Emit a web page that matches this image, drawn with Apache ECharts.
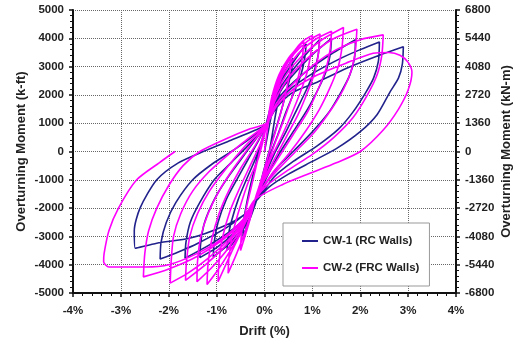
<!DOCTYPE html>
<html>
<head>
<meta charset="utf-8">
<script src="https://cdn.jsdelivr.net/npm/echarts@6/dist/echarts.min.js"></script>
<style>
  html, body { margin: 0; padding: 0; background: #fff; }
  #chart { width: 514px; height: 341px; }
</style>
</head>
<body>
<div id="chart"></div>
<script>
  // drift (%) vs overturning moment (k-ft)
  var cw1 = [
    [0, 0], [0.1, 900], [0.2, 1700], [0.35, 2700],
    [0.33, 2200], [0.22, 1200], [0.08, -200], [-0.08, -1100],
    [-0.22, -2000], [-0.45, -3000],
    [-0.43, -2400], [-0.32, -1400], [-0.16, -300], [-0.02, 600], [0.03, 950],
    [0.15, 1700], [0.3, 2400], [0.45, 2900], [0.6, 3300],
    [0.56, 2800], [0.47, 2200], [0.36, 1500], [0.22, 700], [0.08, -100], [-0.05, -900], [-0.15, -1650],
    [-0.3, -2300], [-0.5, -2900], [-0.78, -3480],
    [-0.76, -3000], [-0.68, -2400], [-0.55, -1700], [-0.38, -1000], [-0.2, -300], [-0.05, 400], [0.03, 950],
    [0.15, 1700], [0.3, 2350], [0.5, 2900], [0.7, 3400], [0.87, 3800],
    [0.84, 3300], [0.76, 2700], [0.62, 2100], [0.45, 1400], [0.28, 600], [0.1, -200], [-0.05, -1000], [-0.15, -1650],
    [-0.3, -2300], [-0.55, -2900], [-0.8, -3350], [-1.07, -3720],
    [-1.05, -3200], [-0.97, -2500], [-0.8, -1700], [-0.58, -1000], [-0.35, -300], [-0.12, 400], [0.03, 950],
    [0.18, 1700], [0.35, 2300], [0.6, 2900], [0.9, 3500], [1.15, 3950],
    [1.12, 3400], [1.03, 2800], [0.88, 2200], [0.68, 1500], [0.45, 700], [0.2, -100], [0, -900], [-0.15, -1650],
    [-0.35, -2300], [-0.65, -2900], [-1.0, -3400], [-1.35, -3750],
    [-1.33, -3200], [-1.25, -2500], [-1.05, -1700], [-0.8, -1000], [-0.5, -300], [-0.2, 400], [0.03, 950],
    [0.2, 1700], [0.4, 2300], [0.7, 2900], [1.05, 3500], [1.4, 4000],
    [1.37, 3400], [1.28, 2800], [1.12, 2200], [0.9, 1500], [0.6, 700], [0.3, -100], [0.05, -900], [-0.15, -1650],
    [-0.35, -2250], [-0.7, -2800], [-1.15, -3300], [-1.66, -3770],
    [-1.64, -3200], [-1.55, -2500], [-1.35, -1800], [-1.05, -1000], [-0.7, -400], [-0.35, 200], [-0.1, 650], [0.03, 950],
    [0.2, 1650], [0.45, 2200], [0.85, 2800], [1.35, 3400], [1.9, 3950],
    [1.88, 3300], [1.78, 2700], [1.6, 2100], [1.35, 1400], [1.0, 700], [0.6, 0], [0.25, -600], [0, -1200], [-0.15, -1700],
    [-0.4, -2200], [-0.8, -2700], [-1.4, -3250], [-1.8, -3550], [-2.18, -3800],
    [-2.16, -3200], [-2.05, -2500], [-1.85, -1800], [-1.5, -1000], [-1.1, -450], [-0.6, 100], [-0.2, 600], [0.03, 950],
    [0.22, 1600], [0.5, 2150], [1.0, 2750], [1.6, 3300], [2.0, 3600], [2.4, 3870],
    [2.38, 3200], [2.28, 2600], [2.12, 2100], [1.85, 1400], [1.55, 800], [1.1, 200], [0.6, -350], [0.2, -900], [-0.15, -1700],
    [-0.4, -2200], [-0.87, -2650], [-1.55, -3060], [-2.25, -3240], [-2.7, -3420],
    [-2.72, -2800], [-2.6, -2000], [-2.25, -1000], [-1.8, -400], [-1.28, 0], [-0.7, 400], [-0.2, 750], [0.03, 950],
    [0.25, 1550], [0.6, 2100], [1.1, 2450], [1.8, 3000], [2.4, 3400], [2.9, 3700],
    [2.88, 3100], [2.8, 2600], [2.62, 2100], [2.35, 1300], [2.0, 700], [1.5, 100], [1.0, -350], [0.5, -800], [0.1, -1250], [-0.15, -1700]
  ];

  var cw2 = [
    [0, 0], [0.1, 1200], [0.25, 2200], [0.4, 2900], [0.55, 3300],
    [0.52, 2700], [0.42, 1900], [0.28, 1000], [0.12, 100], [-0.05, -900], [-0.2, -1700],
    [-0.32, -2500], [-0.5, -3500],
    [-0.48, -2900], [-0.38, -2000], [-0.24, -1000], [-0.1, 0], [0.05, 950],
    [0.15, 1900], [0.3, 2700], [0.5, 3300], [0.82, 3900],
    [0.79, 3300], [0.7, 2600], [0.57, 1900], [0.4, 1100], [0.22, 300], [0.05, -500], [-0.1, -1200], [-0.2, -1700],
    [-0.4, -2800], [-0.58, -3600], [-0.76, -4300],
    [-0.74, -3700], [-0.65, -2800], [-0.5, -1900], [-0.32, -1000], [-0.12, -200], [0.05, 950],
    [0.18, 1950], [0.35, 2800], [0.6, 3500], [0.8, 3900], [1.0, 4100],
    [0.97, 3500], [0.89, 2800], [0.75, 2100], [0.56, 1300], [0.35, 500], [0.12, -300], [-0.05, -1100], [-0.2, -1700],
    [-0.45, -2700], [-0.7, -3600], [-0.97, -4600],
    [-0.95, -3900], [-0.87, -3000], [-0.72, -2100], [-0.52, -1300], [-0.3, -500], [-0.08, 300], [0.05, 1000],
    [0.18, 1900], [0.38, 2800], [0.62, 3450], [0.9, 3900], [1.16, 4150],
    [1.13, 3500], [1.05, 2800], [0.9, 2100], [0.7, 1300], [0.45, 500], [0.2, -300], [-0.05, -1100], [-0.2, -1700],
    [-0.45, -2700], [-0.75, -3600], [-1.0, -4250], [-1.2, -4700],
    [-1.18, -4000], [-1.1, -3100], [-0.95, -2200], [-0.75, -1400], [-0.5, -600], [-0.2, 200], [0.05, 1000],
    [0.2, 1900], [0.4, 2750], [0.7, 3450], [1.05, 3950], [1.4, 4250],
    [1.37, 3600], [1.28, 2900], [1.12, 2200], [0.9, 1400], [0.6, 600], [0.3, -200], [0.0, -1000], [-0.2, -1700],
    [-0.45, -2600], [-0.75, -3400], [-1.1, -4100], [-1.41, -4600],
    [-1.4, -3900], [-1.33, -3000], [-1.18, -2200], [-0.95, -1400], [-0.65, -600], [-0.3, 200], [0.05, 1000],
    [0.2, 1850], [0.45, 2700], [0.8, 3400], [1.2, 3950], [1.65, 4380],
    [1.62, 3700], [1.54, 3000], [1.38, 2300], [1.15, 1500], [0.85, 700], [0.5, -100], [0.15, -800], [-0.2, -1700],
    [-0.45, -2550], [-0.8, -3300], [-1.2, -3950], [-1.65, -4550],
    [-1.63, -3900], [-1.56, -3000], [-1.4, -2200], [-1.15, -1400], [-0.8, -600], [-0.4, 200], [0.05, 1000],
    [0.22, 1800], [0.5, 2600], [0.9, 3300], [1.4, 3950], [1.93, 4320],
    [1.9, 3600], [1.82, 2900], [1.65, 2200], [1.4, 1500], [1.05, 700], [0.65, 0], [0.25, -700], [-0.05, -1300], [-0.2, -1700],
    [-0.45, -2500], [-0.8, -3200], [-1.2, -3800], [-1.6, -4300], [-1.97, -4650],
    [-1.95, -3900], [-1.9, -3000], [-1.75, -2200], [-1.5, -1400], [-1.15, -700], [-0.75, -100], [-0.35, 450], [0.05, 1000],
    [0.25, 1700], [0.6, 2400], [1.05, 3100], [1.5, 3600], [2.0, 3950], [2.48, 4120],
    [2.45, 3400], [2.35, 2700], [2.15, 2000], [1.85, 1200], [1.45, 500], [1.0, -100], [0.5, -650], [0.05, -1200], [-0.2, -1700],
    [-0.45, -2450], [-0.85, -3100], [-1.4, -3700], [-2.0, -4150], [-2.53, -4430],
    [-2.5, -3600], [-2.42, -2800], [-2.25, -2000], [-2.0, -1200], [-1.7, -500], [-1.35, 0], [-0.8, 450], [-0.3, 800], [0.05, 1000],
    [0.25, 1600], [0.6, 2200], [1.1, 2700], [1.7, 3120], [2.27, 3470], [2.6, 3500], [2.83, 3400], [3.0, 3150], [3.08, 2800],
    [3.0, 2170], [2.8, 1500], [2.48, 760], [2.0, 0], [1.5, -400], [0.95, -770], [0.4, -1150], [-0.2, -1700],
    [-0.45, -2400], [-0.9, -3100], [-1.4, -3600], [-2.0, -4000], [-2.5, -4080], [-3.25, -4080], [-3.36, -3900],
    [-3.35, -3600], [-3.25, -2800], [-3.05, -2000], [-2.67, -1000], [-2.2, -400], [-1.87, 0]
  ];

  var driftTicks = [-4, 4, 1];          // min, max, step (%)
  var kftTicks = [-5000, 5000, 1000];   // left axis
  var knmTicks = [-6800, 6800, 1360];   // right axis

  var seriesNames = ['CW-1 (RC Walls)', 'CW-2 (FRC Walls)'];
  var seriesColors = ['#22228c', '#ff00ff'];

  var labelFont = {
    fontFamily: 'Liberation Sans, Arial, sans-serif',
    fontWeight: 'bold',
    fontSize: 11.5,
    color: '#222'
  };
  var nameFont = {
    fontFamily: 'Liberation Sans, Arial, sans-serif',
    fontWeight: 'bold',
    fontSize: 13,
    color: '#222'
  };
  var gridLine = { show: true, lineStyle: { color: '#666', type: [1, 1], width: 1 } };

  function valueAxis(ticks, extra) {
    var a = {
      type: 'value',
      min: ticks[0],
      max: ticks[1],
      interval: ticks[2],
      nameMoveOverlap: false,
      axisLine: { show: true, onZero: false, lineStyle: { color: '#111', width: 2 } },
      axisTick: { show: true, length: 4, lineStyle: { color: '#111', width: 1.5 } },
      minorTick: { show: true, splitNumber: 5, length: 3, lineStyle: { color: '#111', width: 1 } },
      axisLabel: Object.assign({ margin: 9, formatter: function (v) { return String(v); } }, labelFont),
      nameTextStyle: nameFont
    };
    return Object.assign(a, extra);
  }

  var chart = echarts.init(document.getElementById('chart'), null, { renderer: 'canvas' });
  chart.setOption({
    animation: false,
    backgroundColor: '#fff',
    grid: { left: 73, right: 58, top: 10, bottom: 48, outerBoundsMode: 'none' },
    legend: {
      orient: 'vertical',
      left: 283,
      top: 223,
      padding: [12, 10, 12, 19],
      itemGap: 15,
      itemWidth: 16,
      itemHeight: 2,
      icon: 'rect',
      backgroundColor: '#fff',
      borderColor: '#999',
      borderWidth: 1,
      textStyle: Object.assign({ padding: [0, 0, 0, 0] }, labelFont),
      data: seriesNames
    },
    xAxis: valueAxis(driftTicks, {
      name: 'Drift (%)',
      nameLocation: 'middle',
      nameGap: 32,
      splitLine: gridLine,
      axisLabel: Object.assign({ margin: 12, formatter: function (v) { return v + '%'; } }, labelFont)
    }),
    yAxis: [
      valueAxis(kftTicks, {
        position: 'left',
        name: 'Overturning Moment (k-ft)',
        nameLocation: 'middle',
        nameGap: 45,
        splitLine: gridLine
      }),
      valueAxis(knmTicks, {
        position: 'right',
        name: 'Overturning Moment (kN-m)',
        nameLocation: 'middle',
        nameGap: 44,
        nameRotate: 90,
        splitLine: { show: false }
      })
    ],
    series: [
      {
        name: seriesNames[0],
        type: 'line',
        data: cw1,
        yAxisIndex: 0,
        symbol: 'none',
        smooth: 0.25,
        lineStyle: { color: seriesColors[0], width: 1.6 },
        itemStyle: { color: seriesColors[0] }
      },
      {
        name: seriesNames[1],
        type: 'line',
        data: cw2,
        yAxisIndex: 0,
        symbol: 'none',
        smooth: 0.25,
        lineStyle: { color: seriesColors[1], width: 1.6 },
        itemStyle: { color: seriesColors[1] }
      }
    ]
  });
</script>
</body>
</html>
